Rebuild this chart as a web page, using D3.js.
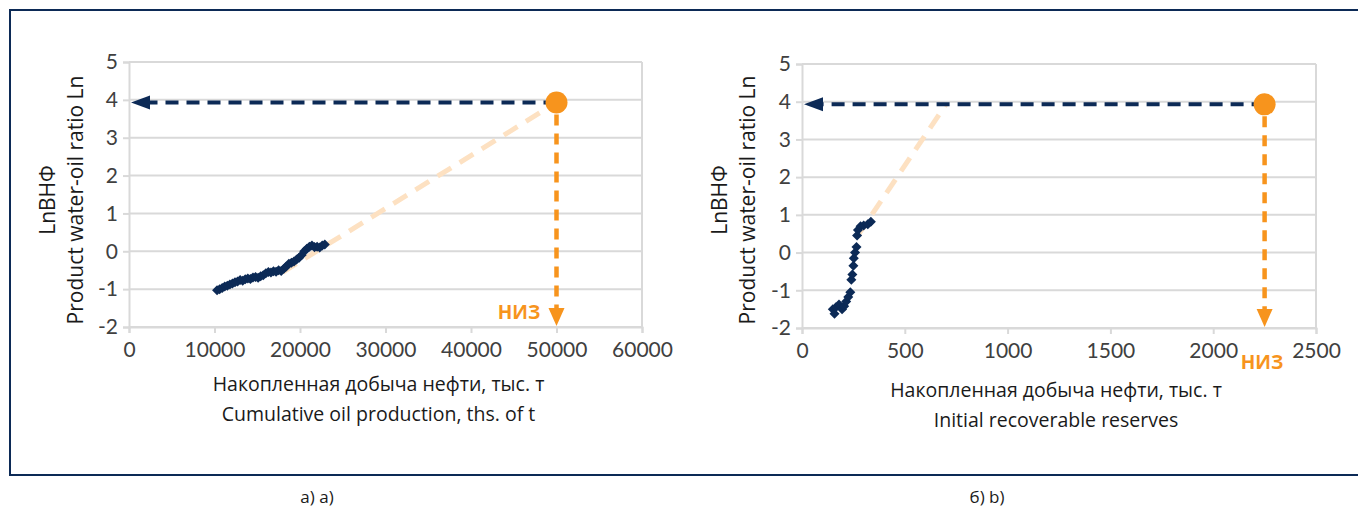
<!DOCTYPE html>
<html>
<head>
<meta charset="utf-8">
<script src="https://cdn.jsdelivr.net/npm/d3@7"></script>
<style>
  body { margin: 0; background: #fff; }
  text { font-family: "Open Sans", "Noto Sans", sans-serif; }
</style>
</head>
<body>
<div id="canvas"></div>
<script>
// data
const yTicks = [-2, -1, 0, 1, 2, 3, 4, 5];
const xTicksA = [0, 10000, 20000, 30000, 40000, 50000, 60000];
const xTicksB = [0, 500, 1000, 1500, 2000, 2500];

// chart a) cumulative oil production vs Ln WOR
const seriesA = [
  [10300, -1.03], [10600, -1.00], [10900, -0.97], [11200, -0.93], [11500, -0.91],
  [11800, -0.88], [12100, -0.85], [12400, -0.82], [12700, -0.80], [13000, -0.76],
  [13300, -0.78], [13600, -0.74], [13900, -0.72], [14200, -0.73], [14500, -0.69],
  [14800, -0.68], [15100, -0.70], [15400, -0.66], [15700, -0.63], [16000, -0.58],
  [16300, -0.55], [16600, -0.56], [16900, -0.53], [17200, -0.54], [17500, -0.50],
  [17800, -0.52], [18100, -0.46], [18400, -0.40], [18700, -0.33], [19000, -0.30],
  [19300, -0.27], [19600, -0.22], [19900, -0.17], [20200, -0.10], [20500, 0.00],
  [20800, 0.07], [21100, 0.12], [21400, 0.15], [21700, 0.11], [22000, 0.12],
  [22300, 0.10], [22600, 0.15], [22900, 0.18]
];
const trendA = [[18000, -0.55], [50000, 3.93]];
const targetA = [50000, 3.93];

// chart b) initial recoverable reserves
const seriesB = [
  [150, -1.50], [158, -1.62], [165, -1.45], [180, -1.38], [195, -1.50],
  [205, -1.42], [215, -1.30], [225, -1.18], [235, -1.05], [240, -0.72],
  [245, -0.58], [250, -0.35], [252, -0.15], [258, 0.00], [265, 0.15],
  [268, 0.45], [272, 0.60], [285, 0.70], [300, 0.72], [320, 0.75], [335, 0.82]
];
const trendB = [[270, 0.44], [700, 3.93]];
const targetB = [2250, 3.93];

const navy = "#0c2a56";
const orange = "#f7941d";
const peach = "#fde1c2";
const grid = "#d9d9d9";
const tickColor = "#404040";

const width = 1358;
const height = 510;

const svg = d3.select("#canvas").append("svg")
  .attr("width", width)
  .attr("height", height);

// outer frame
svg.append("path")
  .attr("d", "M1360,10 H10 V475 H1360")
  .attr("fill", "none")
  .attr("stroke", navy)
  .attr("stroke-width", 2);

function drawPanel(opt) {
  const x = d3.scaleLinear().domain(opt.xDomain).range(opt.xRange);
  const y = d3.scaleLinear().domain([-2, 5]).range(opt.yRange);
  const g = svg.append("g");

  // grid
  g.selectAll(".grid").data(yTicks).enter().append("line")
    .attr("x1", x.range()[0]).attr("x2", x.range()[1])
    .attr("y1", d => y(d)).attr("y2", d => y(d))
    .attr("stroke", grid).attr("stroke-width", 2);
  g.append("line")
    .attr("x1", x.range()[1]).attr("x2", x.range()[1])
    .attr("y1", y(5)).attr("y2", y(-2))
    .attr("stroke", grid).attr("stroke-width", 2);

  // axes
  const yAxis = d3.axisLeft(y).tickValues(yTicks).tickSize(6).tickPadding(5)
    .tickFormat(d => String(d));
  const gy = g.append("g").attr("transform", `translate(${x.range()[0]},0)`).call(yAxis);
  const xAxis = d3.axisBottom(x).tickValues(opt.xTicks).tickSize(6).tickPadding(9)
    .tickFormat(d => String(d));
  const gx = g.append("g").attr("transform", `translate(0,${y(-2)})`).call(xAxis);
  [gx, gy].forEach(a => {
    a.selectAll("path, line").attr("stroke", grid).attr("stroke-width", 2);
    a.selectAll("text").attr("fill", tickColor).style("font-size", "21px")
      .style("font-family", "Lato, 'Open Sans', sans-serif");
  });

  // trend line (light)
  g.append("line")
    .attr("x1", x(opt.trend[0][0])).attr("y1", y(opt.trend[0][1]))
    .attr("x2", x(opt.trend[1][0])).attr("y2", y(opt.trend[1][1]))
    .attr("stroke", peach).attr("stroke-width", 5)
    .attr("stroke-dasharray", "16,10");

  // data points
  g.selectAll(".pt").data(opt.series).enter().append("path")
    .attr("d", d3.symbol(d3.symbolDiamond2, 64))
    .attr("transform", d => `translate(${x(d[0])},${y(d[1])})`)
    .attr("fill", navy);

  const tx = x(opt.target[0]);
  const ty = y(opt.target[1]);
  const x0 = x.range()[0];
  const yb = y(-2);

  // horizontal navy arrow
  g.append("line")
    .attr("x1", tx).attr("y1", ty).attr("x2", x0 + 18).attr("y2", ty)
    .attr("stroke", navy).attr("stroke-width", 4)
    .attr("stroke-dasharray", "13,8");
  g.append("path")
    .attr("d", `M${x0 + 2},${ty} L${x0 + 21},${ty - 7} L${x0 + 21},${ty + 7} Z`)
    .attr("fill", navy);

  // vertical orange arrow
  g.append("line")
    .attr("x1", tx).attr("y1", ty + 12).attr("x2", tx).attr("y2", yb - 16)
    .attr("stroke", orange).attr("stroke-width", 4.5)
    .attr("stroke-dasharray", "11,8");
  g.append("path")
    .attr("d", `M${tx},${yb - 1} L${tx - 8},${yb - 19} L${tx + 8},${yb - 19} Z`)
    .attr("fill", orange);

  g.append("circle")
    .attr("cx", tx).attr("cy", ty).attr("r", 11)
    .attr("fill", orange);

  g.append("text")
    .attr("x", opt.nizPos[0]).attr("y", opt.nizPos[1])
    .attr("text-anchor", "middle").attr("dominant-baseline", "central")
    .attr("fill", orange).style("font-size", "19px").style("font-weight", "bold")
    .text("НИЗ");

  // axis titles
  const cx = (x.range()[0] + x.range()[1]) / 2;
  opt.xTitle.forEach((t, i) => {
    g.append("text")
      .attr("x", cx + opt.xTitleShift).attr("y", opt.xTitleY + i * 30)
      .attr("text-anchor", "middle").attr("fill", "#1a1a1a")
      .style("font-size", "19.5px").text(t);
  });
  ["LnВНФ", "Product water-oil ratio Ln"].forEach((t, i) => {
    g.append("text")
      .attr("transform", `translate(${opt.yTitleX + i * 28},${opt.yTitleY}) rotate(-90)`)
      .attr("text-anchor", "middle").attr("fill", "#1a1a1a")
      .style("font-size", "21px").text(t);
  });

  g.append("text")
    .attr("x", opt.caption[0]).attr("y", opt.caption[1])
    .attr("text-anchor", "middle").attr("fill", "#1a1a1a")
    .style("font-size", "17px").text(opt.caption[2]);
}

drawPanel({
  xDomain: [0, 60000], xRange: [129, 642], yRange: [327, 62],
  xTicks: xTicksA, series: seriesA, trend: trendA, target: targetA,
  nizPos: [519, 312],
  xTitle: ["Накопленная добыча нефти, тыс. т", "Cumulative oil production, ths. of t"],
  xTitleShift: -7, xTitleY: 391,
  yTitleX: 55, yTitleY: 200,
  caption: [317, 503, "а) a)"]
});

drawPanel({
  xDomain: [0, 2500], xRange: [802, 1316], yRange: [328, 64],
  xTicks: xTicksB, series: seriesB, trend: trendB, target: targetB,
  nizPos: [1262, 362],
  xTitle: ["Накопленная добыча нефти, тыс. т", "Initial recoverable reserves"],
  xTitleShift: -3, xTitleY: 397,
  yTitleX: 727, yTitleY: 200,
  caption: [987, 503, "б) b)"]
});
</script>
</body>
</html>
